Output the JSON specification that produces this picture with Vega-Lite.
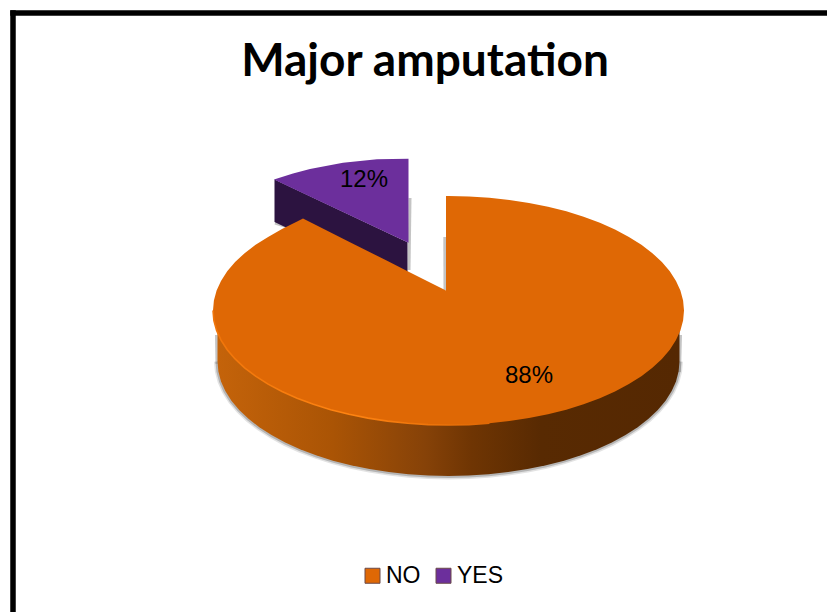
{
  "$schema": "https://vega.github.io/schema/vega-lite/v6.json",
  "width": 827,
  "height": 612,
  "padding": 0,
  "autosize": "none",
  "background": "white",
  "title": {"text": "Major amputation", "font": "Lato", "fontWeight": "bold", "fontSize": 46, "color": "#000000", "anchor": "middle", "frame": "group", "offset": -86, "dx": 11.5},
  "config": {"view": {"stroke": null}},
  "datasets": {
    "shares": [
      {"answer": "NO", "share": 0.88, "x": 529, "y": 376},
      {"answer": "YES", "share": 0.12, "x": 364, "y": 180}
    ],
    "faces": [
      {"answer": "YES", "x": 274, "y": 179.5, "y2": 179.5},
      {"answer": "YES", "x": 293, "y": 173.5, "y2": 188.4},
      {"answer": "YES", "x": 310, "y": 169, "y2": 196.4},
      {"answer": "YES", "x": 343, "y": 162.7, "y2": 211.9},
      {"answer": "YES", "x": 377, "y": 159.3, "y2": 227.9},
      {"answer": "YES", "x": 408.5, "y": 158.7, "y2": 242.7},
      {"answer": "NO", "x": 213, "y": 310.5, "y2": 310.5},
      {"answer": "NO", "x": 213.9, "y": 300.5, "y2": 320.5},
      {"answer": "NO", "x": 216.6, "y": 290.6, "y2": 330.4},
      {"answer": "NO", "x": 221, "y": 280.9, "y2": 340.1},
      {"answer": "NO", "x": 227.2, "y": 271.3, "y2": 349.7},
      {"answer": "NO", "x": 235.1, "y": 262.1, "y2": 358.9},
      {"answer": "NO", "x": 244.6, "y": 253.2, "y2": 367.8},
      {"answer": "NO", "x": 255.6, "y": 244.8, "y2": 376.2},
      {"answer": "NO", "x": 268.1, "y": 236.9, "y2": 384.1},
      {"answer": "NO", "x": 282, "y": 229, "y2": 391.5},
      {"answer": "NO", "x": 297.1, "y": 221.5, "y2": 398.2},
      {"answer": "NO", "x": 303, "y": 218.5, "y2": 400.5},
      {"answer": "NO", "x": 313.4, "y": 223.7, "y2": 404.3},
      {"answer": "NO", "x": 330.7, "y": 232.4, "y2": 409.7},
      {"answer": "NO", "x": 349, "y": 241.7, "y2": 414.3},
      {"answer": "NO", "x": 368, "y": 251.2, "y2": 418.1},
      {"answer": "NO", "x": 387.6, "y": 261.1, "y2": 421.1},
      {"answer": "NO", "x": 407.6, "y": 271.2, "y2": 423.3},
      {"answer": "NO", "x": 428, "y": 281.4, "y2": 424.6},
      {"answer": "NO", "x": 446, "y": 290.5, "y2": 425},
      {"answer": "NO", "x": 446.01, "y": 196, "y2": 425},
      {"answer": "NO", "x": 448.5, "y": 196, "y2": 425},
      {"answer": "NO", "x": 469, "y": 196.4, "y2": 424.6},
      {"answer": "NO", "x": 489.4, "y": 197.7, "y2": 423.3},
      {"answer": "NO", "x": 509.4, "y": 199.9, "y2": 421.1},
      {"answer": "NO", "x": 529, "y": 202.9, "y2": 418.1},
      {"answer": "NO", "x": 548, "y": 206.7, "y2": 414.3},
      {"answer": "NO", "x": 566.3, "y": 211.3, "y2": 409.7},
      {"answer": "NO", "x": 583.6, "y": 216.7, "y2": 404.3},
      {"answer": "NO", "x": 599.9, "y": 222.8, "y2": 398.2},
      {"answer": "NO", "x": 615, "y": 229.5, "y2": 391.5},
      {"answer": "NO", "x": 628.9, "y": 236.9, "y2": 384.1},
      {"answer": "NO", "x": 641.4, "y": 244.8, "y2": 376.2},
      {"answer": "NO", "x": 652.4, "y": 253.2, "y2": 367.8},
      {"answer": "NO", "x": 661.9, "y": 262.1, "y2": 358.9},
      {"answer": "NO", "x": 669.8, "y": 271.3, "y2": 349.7},
      {"answer": "NO", "x": 676, "y": 280.9, "y2": 340.1},
      {"answer": "NO", "x": 680.4, "y": 290.6, "y2": 330.4},
      {"answer": "NO", "x": 683.1, "y": 300.5, "y2": 320.5},
      {"answer": "NO", "x": 684, "y": 310.5, "y2": 310.5}
    ],
    "wallNo": [
      {"x": 217.5, "y": 310.5, "y2": 361.5},
      {"x": 218.4, "y": 310.5, "y2": 371.5},
      {"x": 221, "y": 310.5, "y2": 381.4},
      {"x": 225.3, "y": 310.5, "y2": 391.1},
      {"x": 231.4, "y": 310.5, "y2": 400.7},
      {"x": 239.2, "y": 310.5, "y2": 409.9},
      {"x": 248.5, "y": 310.5, "y2": 418.8},
      {"x": 259.3, "y": 310.5, "y2": 427.2},
      {"x": 271.5, "y": 310.5, "y2": 435.1},
      {"x": 285.2, "y": 310.5, "y2": 442.5},
      {"x": 300, "y": 310.5, "y2": 449.2},
      {"x": 316, "y": 310.5, "y2": 455.3},
      {"x": 332.9, "y": 310.5, "y2": 460.7},
      {"x": 350.9, "y": 310.5, "y2": 465.3},
      {"x": 369.5, "y": 310.5, "y2": 469.1},
      {"x": 388.8, "y": 310.5, "y2": 472.1},
      {"x": 408.4, "y": 310.5, "y2": 474.3},
      {"x": 428.4, "y": 310.5, "y2": 475.6},
      {"x": 448.5, "y": 310.5, "y2": 476},
      {"x": 468.6, "y": 310.5, "y2": 475.6},
      {"x": 488.6, "y": 310.5, "y2": 474.3},
      {"x": 508.2, "y": 310.5, "y2": 472.1},
      {"x": 527.5, "y": 310.5, "y2": 469.1},
      {"x": 546.1, "y": 310.5, "y2": 465.3},
      {"x": 564.1, "y": 310.5, "y2": 460.7},
      {"x": 581, "y": 310.5, "y2": 455.3},
      {"x": 597, "y": 310.5, "y2": 449.2},
      {"x": 611.8, "y": 310.5, "y2": 442.5},
      {"x": 625.5, "y": 310.5, "y2": 435.1},
      {"x": 637.7, "y": 310.5, "y2": 427.2},
      {"x": 648.5, "y": 310.5, "y2": 418.8},
      {"x": 657.8, "y": 310.5, "y2": 409.9},
      {"x": 665.6, "y": 310.5, "y2": 400.7},
      {"x": 671.7, "y": 310.5, "y2": 391.1},
      {"x": 676, "y": 310.5, "y2": 381.4},
      {"x": 678.6, "y": 310.5, "y2": 371.5},
      {"x": 679.5, "y": 310.5, "y2": 361.5}
    ],
    "wallYes": [
      {"x": 274.5, "y": 179.5, "y2": 222},
      {"x": 407.5, "y": 242.2, "y2": 285}
    ],
    "rim": [
      {"x": 213, "y": 310.5},
      {"x": 213.9, "y": 320.5},
      {"x": 216.6, "y": 330.4},
      {"x": 221, "y": 340.1},
      {"x": 227.2, "y": 349.7},
      {"x": 235.1, "y": 358.9},
      {"x": 244.6, "y": 367.8},
      {"x": 255.6, "y": 376.2},
      {"x": 268.1, "y": 384.1},
      {"x": 282, "y": 391.5},
      {"x": 297.1, "y": 398.2},
      {"x": 313.4, "y": 404.3},
      {"x": 330.7, "y": 409.7},
      {"x": 349, "y": 414.3},
      {"x": 368, "y": 418.1},
      {"x": 387.6, "y": 421.1},
      {"x": 407.6, "y": 423.3},
      {"x": 428, "y": 424.6},
      {"x": 448.5, "y": 425},
      {"x": 469, "y": 424.6},
      {"x": 489.4, "y": 423.3}
    ],
    "contactShadows": [
      {"part": "slice edge", "x": 410, "y": 198},
      {"part": "slice edge", "x": 409, "y": 270},
      {"part": "slice foot", "x": 275, "y": 223},
      {"part": "slice foot", "x": 288, "y": 227},
      {"part": "notch edge", "x": 444.8, "y": 237},
      {"part": "notch edge", "x": 445, "y": 290},
      {"part": "wall left", "x": 216.5, "y": 335},
      {"part": "wall left", "x": 217, "y": 364},
      {"part": "wall right", "x": 680.5, "y": 335},
      {"part": "wall right", "x": 679.5, "y": 372}
    ],
    "frame": [
      {"x": 13, "y": 13, "x2": 827, "y2": 13},
      {"x": 13, "y": 13, "x2": 13, "y2": 612}
    ]
  },
  "encoding": {
    "x": {"field": "x", "type": "quantitative", "scale": {"domain": [0, 827], "nice": false, "zero": false}, "axis": null},
    "y": {"field": "y", "type": "quantitative", "scale": {"domain": [612, 0], "nice": false, "zero": false}, "axis": null, "stack": null}
  },
  "layer": [
    {
      "description": "Soft drop shadow under the orange wall",
      "data": {"name": "wallNo"},
      "mark": {"type": "line", "stroke": "#808080", "strokeWidth": 7, "opacity": 0.22},
      "encoding": {"y": {"field": "y2", "type": "quantitative"}}
    },
    {
      "data": {"name": "wallNo"},
      "mark": {"type": "line", "stroke": "#707070", "strokeWidth": 4, "opacity": 0.4},
      "encoding": {"y": {"field": "y2", "type": "quantitative"}}
    },
    {
      "data": {"name": "contactShadows"},
      "mark": {"type": "line", "stroke": "#8a8a8a", "strokeWidth": 3, "opacity": 0.5},
      "encoding": {"detail": {"field": "part"}}
    },
    {
      "data": {"name": "wallYes"},
      "mark": {"type": "area", "orient": "vertical", "color": "#2c1340"},
      "encoding": {"y2": {"field": "y2"}}
    },
    {
      "data": {"name": "wallNo"},
      "mark": {
        "type": "area",
        "orient": "vertical",
        "color": {
          "gradient": "linear", "x1": 0, "y1": 0, "x2": 1, "y2": 0,
          "stops": [
            {"offset": 0, "color": "#c4630a"},
            {"offset": 0.25, "color": "#aa5405"},
            {"offset": 0.45, "color": "#864208"},
            {"offset": 0.55, "color": "#6f3503"},
            {"offset": 0.7, "color": "#582a02"},
            {"offset": 1, "color": "#552802"}
          ]
        }
      },
      "encoding": {"y2": {"field": "y2"}}
    },
    {
      "data": {"name": "faces"},
      "mark": {"type": "area", "orient": "vertical"},
      "encoding": {
        "y2": {"field": "y2"},
        "color": {
          "field": "answer",
          "type": "nominal",
          "scale": {"domain": ["NO", "YES"], "range": ["#df6805", "#6c2f9c"]},
          "legend": {
            "title": null,
            "orient": "none",
            "legendX": 361,
            "legendY": 564,
            "direction": "horizontal",
            "symbolType": "square",
            "symbolSize": 225,
            "symbolStrokeWidth": 1,
            "symbolStrokeColor": "#6b4a4a",
            "symbolOpacity": 1,
            "labelFont": "Liberation Sans",
            "labelFontSize": 23,
            "labelColor": "#000000",
            "labelOffset": 2,
            "columnPadding": 11
          }
        }
      }
    },
    {
      "data": {"name": "rim"},
      "mark": {
        "type": "line",
        "strokeWidth": 1.6,
        "stroke": {
          "gradient": "linear", "x1": 0, "y1": 0, "x2": 1, "y2": 0,
          "stops": [
            {"offset": 0, "color": "#f0750a"},
            {"offset": 0.5, "color": "#ff8412"},
            {"offset": 1, "color": "#df6805"}
          ]
        }
      }
    },
    {
      "data": {"name": "shares"},
      "mark": {"type": "text", "font": "Liberation Sans", "fontSize": 24, "align": "center", "baseline": "middle", "color": "#000000"},
      "encoding": {"text": {"field": "share", "type": "quantitative", "format": ".0%"}}
    },
    {
      "data": {"name": "frame"},
      "mark": {"type": "rule", "color": "#000000", "strokeWidth": 5.5, "strokeCap": "square"},
      "encoding": {"x2": {"field": "x2"}, "y2": {"field": "y2"}}
    }
  ]
}
